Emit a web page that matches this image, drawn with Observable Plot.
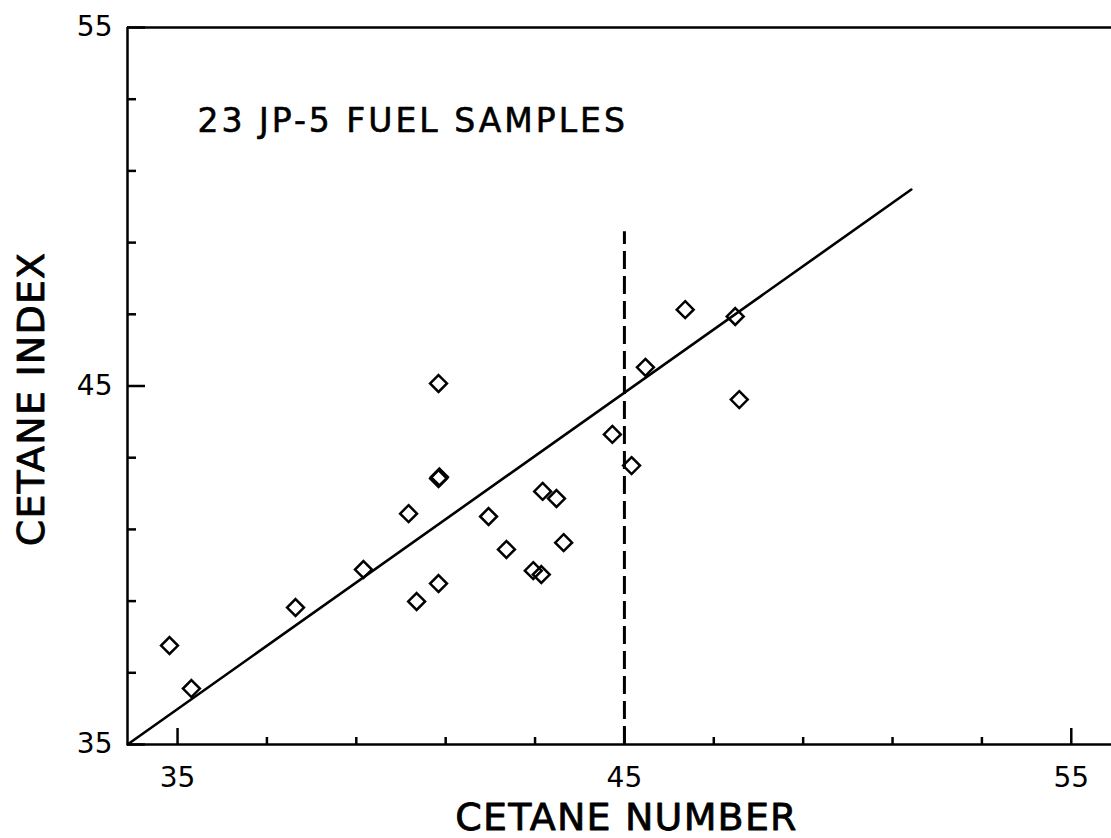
<!DOCTYPE html>
<html>
<head>
<meta charset="utf-8">
<script src="https://cdn.jsdelivr.net/npm/d3@7"></script>
<script src="https://cdn.jsdelivr.net/npm/@observablehq/plot@0.6"></script>
<style>
  html, body { margin: 0; padding: 0; background: #ffffff; }
  #chart svg { display: block; }
</style>
</head>
<body>
<div id="chart"></div>
<script>
// ---- data ----
const cetaneNumber = [34.82, 35.31, 37.64, 39.16, 40.17, 40.35, 40.84, 40.84, 40.84, 40.86, 41.96, 42.36,
                      42.96, 43.14, 43.17, 43.48, 43.64, 44.73, 45.16, 45.47, 46.36, 47.48, 47.57];
const cetaneIndex  = [37.76, 36.56, 38.82, 39.88, 41.44, 38.99, 39.49, 45.07, 42.42, 42.46, 41.36, 40.44,
                      39.85, 39.74, 42.06, 41.86, 40.63, 43.65, 42.78, 45.52, 47.13, 46.94, 44.62];
const fitX = [33.88, 51.42];
const fitY = [35.0, 50.48];
const limitX = [45];
const limitY = [35, 49.3];
const xDomain = [33.88, 55.9];
const yDomain = [35, 55];
const xTicks = [35, 37, 39, 41, 43, 45, 47, 49, 51, 53, 55];
const yTicks = [35, 37, 39, 41, 43, 45, 47, 49, 51, 53, 55];
const majorTicks = [35, 45, 55];
const titleText = "23 JP-5 FUEL SAMPLES";
const xLabel = "CETANE NUMBER";
const yLabel = "CETANE INDEX";

const samples = cetaneNumber.map((x, i) => ({x, y: cetaneIndex[i]}));
const fit = fitX.map((x, i) => ({x, y: fitY[i]}));
const minorX = xTicks.filter(t => !majorTicks.includes(t));
const minorY = yTicks.filter(t => !majorTicks.includes(t));

const W = 1111, H = 838;
const mL = 127, mT = 27, mB = 94, mR = 0;
const plotH = H - mT - mB, plotW = W - mL - mR;
const labelFont = "DejaVu Sans";
const tickFont = "DejaVu Sans";
const ink = "#000";

const chart = Plot.plot({
  width: W, height: H,
  marginLeft: mL, marginTop: mT, marginBottom: mB, marginRight: mR,
  x: {domain: xDomain, axis: null},
  y: {domain: yDomain, axis: null},
  style: {background: "#ffffff", color: "#000000"},
  marks: [
    // frame (top, bottom, left)
    Plot.ruleY([yDomain[1]], {stroke: ink, strokeWidth: 2.5}),
    Plot.ruleY([yDomain[0]], {stroke: ink, strokeWidth: 2.5}),
    Plot.ruleX([xDomain[0]], {stroke: ink, strokeWidth: 2.5}),
    // inward ticks
    Plot.tickX(minorX, {x: d => d, insetTop: plotH - 7, stroke: ink, strokeWidth: 2.5}),
    Plot.tickX(majorTicks, {x: d => d, insetTop: plotH - 16, stroke: ink, strokeWidth: 2.5}),
    Plot.tickY(minorY, {y: d => d, insetRight: plotW - 9, stroke: ink, strokeWidth: 2.5}),
    Plot.tickY(majorTicks, {y: d => d, insetRight: plotW - 18, stroke: ink, strokeWidth: 2.5}),
    // tick labels
    Plot.text(majorTicks, {x: d => d, text: d => String(d), frameAnchor: "bottom", dy: 23, lineAnchor: "top",
      textAnchor: "middle", fontSize: 28, fontFamily: tickFont, fill: ink}),
    Plot.text(majorTicks, {y: d => d, text: d => String(d), frameAnchor: "left", dx: -15, lineAnchor: "middle",
      textAnchor: "end", fontSize: 28, fontFamily: tickFont, fill: ink}),
    // regression line and limit
    Plot.line(fit, {x: "x", y: "y", stroke: ink, strokeWidth: 2.6}),
    Plot.ruleX(limitX, {x: d => d, y1: limitY[0], y2: limitY[1], stroke: ink, strokeWidth: 3, strokeDasharray: "18,7"}),
    // samples
    Plot.dot(samples, {x: "x", y: "y", symbol: "diamond2", r: 7.6, stroke: ink, strokeWidth: 2.5, fill: "none"}),
    // texts
    Plot.text([titleText], {frameAnchor: "top-left", dx: 70, dy: 81, textAnchor: "start", lineAnchor: "top",
      fontSize: 33, fontFamily: labelFont, fill: ink, stroke: ink, strokeWidth: 0.6}),
    Plot.text([xLabel], {frameAnchor: "bottom", dx: 7, dy: 59, textAnchor: "middle", lineAnchor: "top",
      fontSize: 38, fontFamily: labelFont, fill: ink, stroke: ink, strokeWidth: 0.8}),
    Plot.text([yLabel], {frameAnchor: "left", dx: -96, dy: 13, rotate: -90, textAnchor: "middle", lineAnchor: "middle",
      fontSize: 38, fontFamily: labelFont, fill: ink, stroke: ink, strokeWidth: 0.8})
  ]
});

const sel = d3.select(chart);
sel.selectAll("text").filter(function() { return this.textContent === titleText; }).attr("letter-spacing", 3);
sel.selectAll("text").filter(function() { return this.textContent === xLabel || this.textContent === yLabel; }).attr("letter-spacing", 1.2);

document.getElementById("chart").appendChild(chart);
</script>
</body>
</html>
